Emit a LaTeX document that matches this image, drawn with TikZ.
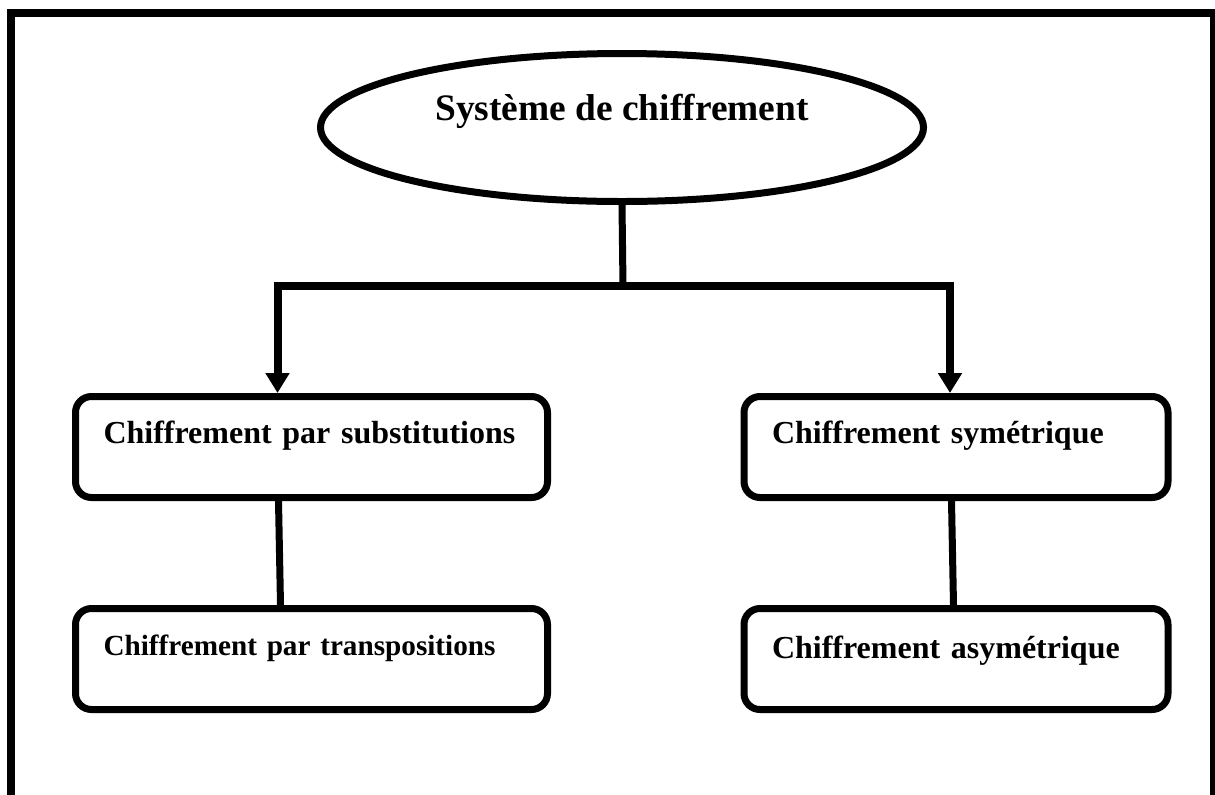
\documentclass[tikz,border=0pt]{standalone}
\usepackage{fontspec}
\setmainfont{Liberation Serif}
\usepackage{tikz}
\usetikzlibrary{arrows.meta,positioning,shapes.geometric}

\begin{document}
\begin{tikzpicture}[x=0.5pt,y=-0.5pt,
 frame/.style={line width=4pt},
 root/.style={draw,ellipse,line width=3.5pt,inner sep=0pt,minimum width=301.5pt,minimum height=74pt,
  text height=14.5pt,text depth=22pt,font=\fontsize{18.7}{22}\selectfont\bfseries},
 box/.style={draw,rounded corners=8pt,line width=3.5pt,align=left,anchor=north west,inner xsep=14pt,inner ysep=0pt,
  text height=23.5pt,text depth=27pt,font=\fontsize{16}{19}\selectfont\bfseries},
 link/.style={line width=3.5pt},
 arrow/.style={-{Triangle[length=10pt,width=11.5pt]},line width=4pt}]
\path[use as bounding box] (0,0) rectangle (1215,794);
\draw[frame] (11,820) |- (1214,13) -- (1214,820);
\node[root] (system) at (622,127.5) {Système de chiffrement};
\node[box,text width=208pt] (subst) at (72,393) {Chiffrement par substitutions};
\node[box,text width=208pt,font=\fontsize{14.6}{18}\selectfont\bfseries] (transp) at (72,605) {Chiffrement par transpositions};
\node[box,text width=184pt] (sym) at (740.5,393) {Chiffrement symétrique};
\node[box,text width=184pt,text height=25pt,text depth=25.5pt] (asym) at (740.5,605) {Chiffrement asymétrique};
\coordinate (split) at (623,286);
\draw[link] (system.south) -- (split);
\draw[arrow] (split) -| ([xshift=-17pt]subst.north);
\draw[arrow] (split) -| ([xshift=-3pt]sym.north);
\draw[link] ([xshift=-16.5pt]subst.south) -- ([xshift=-15.5pt]transp.north);
\draw[link] ([xshift=-2.25pt]sym.south) -- ([xshift=-1.25pt]asym.north);
\end{tikzpicture}
\end{document}
